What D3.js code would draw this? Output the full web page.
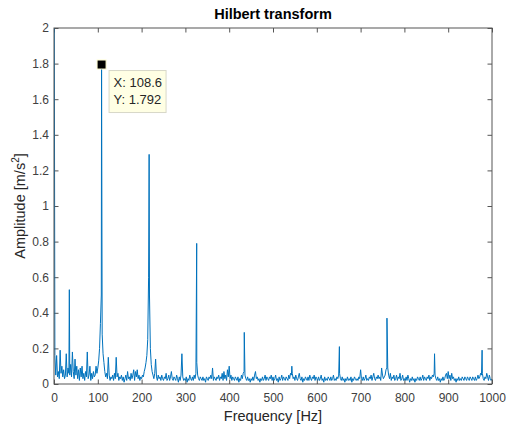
<!DOCTYPE html>
<html>
<head>
<meta charset="utf-8">
<script src="https://cdn.jsdelivr.net/npm/d3@7"></script>
<style>
  body { margin: 0; background: #fff; }
  text { font-family: "Liberation Sans", Arial, Helvetica, sans-serif; }
</style>
</head>
<body>
<div id="chart"></div>
<script>
const width = 507;
const height = 430;
const margin = { top: 28, right: 15, bottom: 46, left: 54 };

const gridStep = 2;
const gridAmp = [
  // 0 - 98 Hz
  3.0, 0.16, 0.05, 0.16, 0.04, 0.07, 0.03, 0.19, 0.06, 0.10,
  0.04, 0.08, 0.03, 0.05, 0.17, 0.04, 0.09, 0.06, 0.05, 0.11,
  0.04, 0.18, 0.07, 0.03, 0.14, 0.05, 0.10, 0.03, 0.08, 0.02,
  0.09, 0.04, 0.10, 0.03, 0.06, 0.02, 0.07, 0.04, 0.18, 0.03,
  0.05, 0.10, 0.02, 0.06, 0.03, 0.07, 0.04, 0.05, 0.10, 0.06,
  // 100 - 198 Hz
  0.09, 0.13, 0.20, 0.34, 0.50, 0.28, 0.17, 0.12, 0.07, 0.04,
  0.06, 0.03, 0.15, 0.05, 0.02, 0.04, 0.03, 0.05, 0.02, 0.06,
  0.03, 0.15, 0.04, 0.06, 0.02, 0.04, 0.03, 0.05, 0.02, 0.04,
  0.01, 0.03, 0.05, 0.02, 0.07, 0.03, 0.04, 0.02, 0.06, 0.03,
  0.05, 0.08, 0.02, 0.07, 0.04, 0.08, 0.03, 0.05, 0.02, 0.04,
  // 200 - 298 Hz
  0.03, 0.05, 0.04, 0.07, 0.09, 0.12, 0.16, 0.25, 0.60, 0.50,
  0.20, 0.11, 0.07, 0.05, 0.03, 0.06, 0.14, 0.04, 0.02, 0.05,
  0.03, 0.04, 0.02, 0.05, 0.03, 0.02, 0.04, 0.03, 0.06, 0.02,
  0.03, 0.05, 0.02, 0.04, 0.07, 0.03, 0.02, 0.04, 0.03, 0.02,
  0.05, 0.03, 0.01, 0.04, 0.02, 0.05, 0.17, 0.04, 0.02, 0.03,
  // 300 - 398 Hz
  0.02, 0.04, 0.01, 0.03, 0.02, 0.05, 0.03, 0.02, 0.04, 0.02,
  0.05, 0.03, 0.06, 0.12, 0.05, 0.03, 0.02, 0.04, 0.03, 0.02,
  0.04, 0.02, 0.03, 0.01, 0.04, 0.03, 0.02, 0.04, 0.03, 0.05,
  0.03, 0.09, 0.02, 0.04, 0.03, 0.02, 0.04, 0.03, 0.05, 0.02,
  0.04, 0.03, 0.06, 0.02, 0.07, 0.03, 0.05, 0.02, 0.08, 0.04,
  // 400 - 498 Hz
  0.10, 0.03, 0.05, 0.02, 0.04, 0.03, 0.02, 0.04, 0.03, 0.02,
  0.04, 0.01, 0.03, 0.02, 0.05, 0.03, 0.06, 0.07, 0.05, 0.03,
  0.02, 0.04, 0.02, 0.03, 0.01, 0.03, 0.02, 0.04, 0.02, 0.05,
  0.07, 0.03, 0.04, 0.02, 0.03, 0.01, 0.03, 0.02, 0.04, 0.02,
  0.03, 0.05, 0.02, 0.04, 0.03, 0.02, 0.04, 0.03, 0.05, 0.02,
  // 500 - 598 Hz
  0.04, 0.02, 0.03, 0.05, 0.02, 0.03, 0.01, 0.04, 0.02, 0.03,
  0.05, 0.02, 0.04, 0.03, 0.02, 0.04, 0.03, 0.02, 0.05, 0.03,
  0.06, 0.05, 0.06, 0.03, 0.04, 0.02, 0.05, 0.03, 0.02, 0.04,
  0.06, 0.03, 0.02, 0.04, 0.01, 0.03, 0.02, 0.04, 0.03, 0.02,
  0.04, 0.02, 0.05, 0.03, 0.02, 0.04, 0.03, 0.05, 0.02, 0.04,
  // 600 - 698 Hz
  0.03, 0.02, 0.04, 0.02, 0.03, 0.05, 0.02, 0.03, 0.01, 0.04,
  0.02, 0.03, 0.02, 0.04, 0.03, 0.02, 0.04, 0.02, 0.03, 0.05,
  0.02, 0.03, 0.02, 0.04, 0.03, 0.05, 0.06, 0.03, 0.02, 0.04,
  0.02, 0.03, 0.01, 0.03, 0.02, 0.04, 0.02, 0.03, 0.02, 0.04,
  0.01, 0.03, 0.02, 0.04, 0.03, 0.02, 0.03, 0.02, 0.04, 0.03,
  // 700 - 798 Hz
  0.08, 0.03, 0.02, 0.04, 0.02, 0.03, 0.05, 0.02, 0.03, 0.02,
  0.04, 0.03, 0.05, 0.02, 0.04, 0.06, 0.03, 0.02, 0.04, 0.03,
  0.05, 0.03, 0.04, 0.02, 0.09, 0.05, 0.03, 0.04, 0.05, 0.08,
  0.09, 0.09, 0.05, 0.03, 0.06, 0.02, 0.04, 0.03, 0.05, 0.02,
  0.03, 0.05, 0.02, 0.04, 0.03, 0.06, 0.02, 0.03, 0.05, 0.02,
  // 800 - 898 Hz
  0.03, 0.02, 0.04, 0.02, 0.05, 0.03, 0.01, 0.03, 0.02, 0.04,
  0.02, 0.03, 0.01, 0.03, 0.02, 0.04, 0.03, 0.02, 0.04, 0.02,
  0.03, 0.05, 0.02, 0.04, 0.03, 0.02, 0.04, 0.03, 0.05, 0.02,
  0.04, 0.03, 0.05, 0.04, 0.06, 0.05, 0.03, 0.02, 0.04, 0.02,
  0.03, 0.01, 0.03, 0.02, 0.04, 0.02, 0.03, 0.05, 0.06, 0.03,
  // 900 - 998 Hz
  0.07, 0.03, 0.05, 0.02, 0.06, 0.03, 0.04, 0.02, 0.03, 0.01,
  0.03, 0.02, 0.04, 0.02, 0.03, 0.02, 0.04, 0.03, 0.02, 0.04,
  0.03, 0.02, 0.04, 0.03, 0.02, 0.04, 0.03, 0.02, 0.04, 0.03,
  0.02, 0.04, 0.02, 0.03, 0.05, 0.03, 0.04, 0.06, 0.05, 0.06,
  0.03, 0.02, 0.04, 0.03, 0.06, 0.04, 0.02, 0.05, 0.03, 0.02,
  // 1000 Hz
  0.03
];

// Narrow peaks between grid samples
const peakFreq = [35, 108.6, 217.2, 325.8, 434.4, 543, 651.6, 760.2, 868.8, 977.4];
const peakAmp = [0.53, 1.792, 1.29, 0.79, 0.29, 0.10, 0.21, 0.37, 0.17, 0.19];

const xTicks = [0, 100, 200, 300, 400, 500, 600, 700, 800, 900, 1000];
const yTicks = [0, 0.2, 0.4, 0.6, 0.8, 1, 1.2, 1.4, 1.6, 1.8, 2];

// Data tip
const tipFreq = 108.6;
const tipAmp = 1.792;

const points = gridAmp.map(function (a, i) { return { f: i * gridStep, a: a }; })
  .concat(peakFreq.map(function (f, i) { return { f: f, a: peakAmp[i] }; }))
  .sort(function (p, q) { return p.f - q.f; });

const innerW = width - margin.left - margin.right;
const innerH = height - margin.top - margin.bottom;

const x = d3.scaleLinear().domain([0, 1000]).range([0, innerW]);
const y = d3.scaleLinear().domain([0, 2]).range([innerH, 0]);

const svg = d3.select('#chart')
  .append('svg')
  .attr('width', width)
  .attr('height', height);

const g = svg.append('g')
  .attr('transform', 'translate(' + margin.left + ',' + margin.top + ')');

svg.append('defs').append('clipPath')
  .attr('id', 'plot-clip')
  .append('rect')
  .attr('width', innerW)
  .attr('height', innerH);

const tickColor = '#555';
const labelColor = '#404040';
const plain = d3.format('~g');

// Axes with inward ticks
function styleAxis(sel) {
  sel.select('.domain').remove();
  sel.selectAll('.tick line').attr('stroke', tickColor);
  sel.selectAll('.tick text')
    .attr('fill', labelColor)
    .style('font-size', '12px');
}

g.append('g')
  .attr('transform', 'translate(0,' + innerH + ')')
  .call(d3.axisBottom(x).tickValues(xTicks).tickSize(-4.5).tickPadding(9).tickFormat(plain))
  .call(styleAxis);

g.append('g')
  .call(d3.axisTop(x).tickValues(xTicks).tickSize(-4.5).tickFormat(''))
  .call(styleAxis);

g.append('g')
  .call(d3.axisLeft(y).tickValues(yTicks).tickSize(-4.5).tickPadding(5).tickFormat(plain))
  .call(styleAxis);

g.append('g')
  .attr('transform', 'translate(' + innerW + ',0)')
  .call(d3.axisRight(y).tickValues(yTicks).tickSize(-4.5).tickFormat(''))
  .call(styleAxis);

// Spectrum line
const line = d3.line()
  .x(function (d) { return x(d.f); })
  .y(function (d) { return y(d.a); });

g.append('path')
  .datum(points)
  .attr('clip-path', 'url(#plot-clip)')
  .attr('fill', 'none')
  .attr('stroke', '#0072BD')
  .attr('stroke-width', 1)
  .attr('stroke-linejoin', 'round')
  .attr('d', line);

// Box
g.append('rect')
  .attr('width', innerW)
  .attr('height', innerH)
  .attr('fill', 'none')
  .attr('stroke', tickColor)
  .attr('stroke-width', 1);

// Title and labels
svg.append('text')
  .attr('x', margin.left + innerW / 2)
  .attr('y', 19)
  .attr('text-anchor', 'middle')
  .style('font-size', '14.5px')
  .style('font-weight', 'bold')
  .attr('fill', '#000')
  .text('Hilbert transform');

svg.append('text')
  .attr('x', margin.left + innerW / 2)
  .attr('y', 421)
  .attr('text-anchor', 'middle')
  .style('font-size', '14.5px')
  .attr('fill', '#262626')
  .text('Frequency [Hz]');

const yLabel = svg.append('text')
  .attr('transform', 'translate(25,' + (margin.top + innerH / 2) + ') rotate(-90)')
  .attr('text-anchor', 'middle')
  .style('font-size', '14.5px')
  .attr('fill', '#262626');
yLabel.append('tspan').text('Amplitude [m/s');
yLabel.append('tspan').attr('dy', -6).style('font-size', '10px').text('2');
yLabel.append('tspan').attr('dy', 6).text(']');

// Data tip marker and box
const tx = x(tipFreq);
const ty = y(tipAmp);

g.append('rect')
  .attr('x', tx - 4.5)
  .attr('y', ty - 5)
  .attr('width', 9)
  .attr('height', 9)
  .attr('fill', '#000')
  .attr('stroke', '#fffcd0')
  .attr('stroke-width', 1);

const tip = g.append('g')
  .attr('transform', 'translate(' + (tx + 7.5) + ',' + (ty + 5.5) + ')');

tip.append('rect')
  .attr('width', 57)
  .attr('height', 42)
  .attr('fill', '#ffffe4')
  .attr('stroke', '#d8d8c8')
  .attr('stroke-width', 1);

tip.append('text')
  .attr('x', 4.5)
  .attr('y', 16.5)
  .style('font-size', '13px')
  .attr('fill', '#262626')
  .text('X: ' + tipFreq);

tip.append('text')
  .attr('x', 4.5)
  .attr('y', 33.5)
  .style('font-size', '13px')
  .attr('fill', '#262626')
  .text('Y: ' + tipAmp);
</script>
</body>
</html>
